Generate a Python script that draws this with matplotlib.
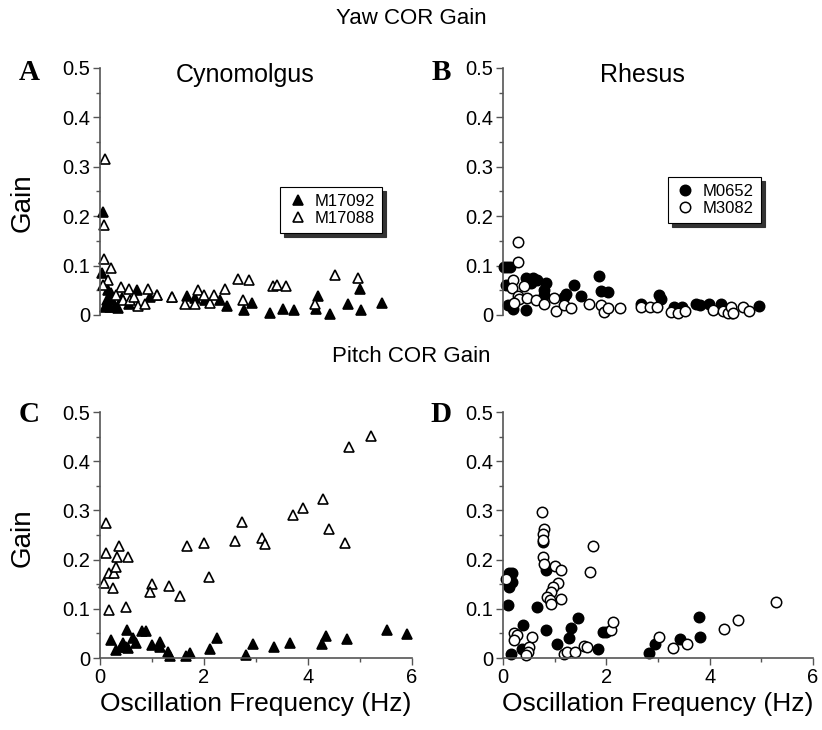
import matplotlib.pyplot as plt
import numpy as np

# ---- Yaw, Cynomolgus (panel A) ----
m17092_yaw_f = [0.06, 0.04, 0.10, 0.19, 0.29, 0.34, 0.15, 0.22, 0.13, 0.23, 0.42, 0.55, 0.71,
                0.96, 1.10, 1.38, 1.67, 1.83, 2.02, 2.30, 2.44, 2.77, 2.92, 3.27, 3.51, 3.73,
                4.15, 4.20, 4.42, 4.77, 4.99, 5.01, 5.42]
m17092_yaw_g = [0.209, 0.085, 0.016, 0.016, 0.016, 0.014, 0.050, 0.044, 0.030, 0.030, 0.034,
                0.022, 0.050, 0.036, 0.040, 0.036, 0.038, 0.034, 0.030, 0.030, 0.018, 0.010,
                0.025, 0.005, 0.012, 0.010, 0.012, 0.038, 0.003, 0.022, 0.052, 0.010, 0.024]
m17088_yaw_f = [0.10, 0.07, 0.08, 0.21, 0.15, 0.06, 0.40, 0.30, 0.44, 0.55, 0.57, 0.65, 0.73,
                0.86, 0.92, 1.10, 1.38, 1.63, 1.83, 1.88, 2.00, 2.12, 2.20, 2.40, 2.66, 2.74,
                2.87, 3.33, 3.40, 3.58, 4.13, 4.52, 4.96]
m17088_yaw_g = [0.315, 0.182, 0.113, 0.096, 0.070, 0.060, 0.056, 0.040, 0.030, 0.052, 0.030,
                0.036, 0.018, 0.022, 0.052, 0.040, 0.037, 0.022, 0.022, 0.050, 0.040, 0.025,
                0.040, 0.052, 0.072, 0.030, 0.070, 0.058, 0.060, 0.058, 0.022, 0.080, 0.075]

# ---- Yaw, Rhesus (panel B) ----
m0652_yaw_f = [0.02, 0.08, 0.13, 0.06, 0.10, 0.20, 0.45, 0.45, 0.58, 0.65, 0.55, 0.83, 0.80,
               0.80, 1.18, 1.21, 1.37, 1.51, 1.86, 1.89, 2.03, 2.67, 3.02, 3.06, 3.31, 3.47,
               3.73, 3.82, 3.98, 4.22, 4.44, 4.95]
m0652_yaw_g = [0.097, 0.097, 0.097, 0.061, 0.020, 0.013, 0.010, 0.074, 0.074, 0.070, 0.065,
               0.065, 0.050, 0.040, 0.037, 0.043, 0.061, 0.039, 0.078, 0.049, 0.046, 0.023,
               0.040, 0.032, 0.016, 0.016, 0.023, 0.020, 0.023, 0.023, 0.004, 0.018]
m3082_yaw_f = [0.29, 0.28, 0.20, 0.17, 0.29, 0.31, 0.21, 0.41, 0.47, 0.63, 0.80, 0.98, 1.03,
               1.18, 1.32, 1.66, 1.89, 1.96, 2.03, 2.27, 2.67, 2.85, 2.99, 3.25, 3.38, 3.52,
               4.06, 4.25, 4.35, 4.41, 4.64, 4.77, 4.45]
m3082_yaw_g = [0.148, 0.108, 0.071, 0.055, 0.038, 0.032, 0.025, 0.058, 0.034, 0.030, 0.022,
               0.034, 0.009, 0.020, 0.014, 0.022, 0.020, 0.006, 0.015, 0.014, 0.016, 0.016,
               0.016, 0.006, 0.004, 0.009, 0.011, 0.008, 0.004, 0.017, 0.016, 0.008, 0.004]

# ---- Pitch, Cynomolgus (panel C) ----
m17092_pitch_f = [0.22, 0.31, 0.40, 0.50, 0.51, 0.44, 0.53, 0.64, 0.70, 0.80, 0.88, 0.99, 1.15,
                  1.15, 1.31, 1.35, 1.66, 1.73, 2.12, 2.24, 2.81, 2.95, 3.35, 3.65, 4.26, 4.35,
                  4.74, 5.51, 5.90]
m17092_pitch_g = [0.036, 0.016, 0.023, 0.023, 0.056, 0.030, 0.020, 0.040, 0.030, 0.055, 0.055,
                  0.027, 0.033, 0.023, 0.012, 0.005, 0.005, 0.011, 0.018, 0.040, 0.006, 0.028,
                  0.022, 0.031, 0.028, 0.045, 0.038, 0.057, 0.048]
m17088_pitch_f = [0.11, 0.11, 0.07, 0.17, 0.27, 0.24, 0.18, 0.31, 0.33, 0.37, 0.53, 0.50, 0.99,
                  0.97, 1.33, 1.54, 1.67, 2.00, 2.10, 2.60, 2.73, 3.12, 3.17, 3.72, 3.90, 4.28,
                  4.41, 4.71, 4.78, 5.21]
m17088_pitch_g = [0.275, 0.213, 0.152, 0.172, 0.172, 0.142, 0.098, 0.186, 0.205, 0.228, 0.205,
                  0.103, 0.150, 0.134, 0.146, 0.126, 0.228, 0.234, 0.164, 0.238, 0.276, 0.244,
                  0.231, 0.290, 0.305, 0.324, 0.263, 0.234, 0.428, 0.452]

# ---- Pitch, Rhesus (panel D) ----
m0652_pitch_f = [0.12, 0.18, 0.09, 0.18, 0.12, 0.09, 0.15, 0.39, 0.36, 0.66, 0.83, 0.83, 0.77,
                 1.04, 1.27, 1.32, 1.45, 1.84, 1.93, 1.99, 2.82, 2.94, 3.42, 3.79, 3.82]
m0652_pitch_g = [0.172, 0.172, 0.155, 0.155, 0.145, 0.107, 0.009, 0.067, 0.019, 0.104, 0.178,
                 0.056, 0.235, 0.028, 0.041, 0.061, 0.082, 0.018, 0.053, 0.053, 0.010, 0.029,
                 0.039, 0.083, 0.043]
m3082_pitch_f = [0.75, 0.79, 0.77, 0.78, 0.78, 0.80, 1.00, 1.12, 1.74, 1.68, 1.06, 0.96, 0.93,
                 0.86, 0.90, 0.93, 1.12, 0.21, 0.27, 0.22, 0.56, 0.51, 0.48, 0.45, 1.18, 1.24,
                 1.39, 1.57, 1.63, 2.09, 2.13, 3.02, 3.29, 3.56, 4.28, 4.55, 5.28, 0.05]
m3082_pitch_g = [0.296, 0.263, 0.253, 0.240, 0.205, 0.192, 0.188, 0.178, 0.228, 0.174, 0.152,
                 0.144, 0.134, 0.125, 0.117, 0.110, 0.120, 0.050, 0.047, 0.036, 0.043, 0.022,
                 0.012, 0.006, 0.009, 0.013, 0.013, 0.025, 0.022, 0.056, 0.073, 0.043, 0.021,
                 0.028, 0.060, 0.077, 0.113, 0.160]

plt.rcParams['font.family'] = ['Liberation Sans', 'DejaVu Sans']

fig = plt.figure(figsize=(8.22, 7.3), dpi=100)

ax_a = fig.add_axes([0.1217, 0.5685, 0.3796, 0.3384])
ax_b = fig.add_axes([0.612, 0.5685, 0.377, 0.3384])
ax_c = fig.add_axes([0.1217, 0.0986, 0.3796, 0.337])
ax_d = fig.add_axes([0.612, 0.0986, 0.377, 0.337])

tri = dict(marker='^', ms=7.5, mew=1.2, mec='black', ls='none', clip_on=False)
circ = dict(marker='o', ms=7.5, mew=1.1, mec='black', ls='none', clip_on=False)

ax_a.plot(m17092_yaw_f, m17092_yaw_g, mfc='black', label='M17092', **tri)
ax_a.plot(m17088_yaw_f, m17088_yaw_g, mfc='white', label='M17088', **tri)
ax_b.plot(m0652_yaw_f, m0652_yaw_g, mfc='black', label='M0652', **circ)
ax_b.plot(m3082_yaw_f, m3082_yaw_g, mfc='white', label='M3082', **circ)
ax_c.plot(m17092_pitch_f, m17092_pitch_g, mfc='black', **tri)
ax_c.plot(m17088_pitch_f, m17088_pitch_g, mfc='white', **tri)
ax_d.plot(m0652_pitch_f, m0652_pitch_g, mfc='black', **circ)
ax_d.plot(m3082_pitch_f, m3082_pitch_g, mfc='white', **circ)

for ax in (ax_a, ax_b, ax_c, ax_d):
    ax.set_xlim(0, 6)
    ax.set_ylim(0, 0.5)
    ax.set_yticks([0, 0.1, 0.2, 0.3, 0.4, 0.5])
    ax.set_yticklabels(['0', '0.1', '0.2', '0.3', '0.4', '0.5'])
    ax.set_yticks(np.arange(0.05, 0.5, 0.1), minor=True)
    ax.spines['top'].set_visible(False)
    ax.spines['right'].set_visible(False)
    for s in ('left', 'bottom'):
        ax.spines[s].set_color('#555555')
        ax.spines[s].set_linewidth(1.2)
    ax.tick_params(axis='both', which='major', direction='out', length=5,
                   width=1, color='#555555', labelsize=14.5, pad=2)
    ax.tick_params(axis='both', which='minor', direction='out', length=3,
                   width=1, color='#555555')

for ax in (ax_a, ax_b):
    ax.spines['bottom'].set_visible(False)
    ax.set_xticks([])

for ax in (ax_c, ax_d):
    ax.set_xticks([0, 2, 4, 6])
    ax.set_xticklabels(['0', '2', '4', '6'])
    ax.set_xticks([1, 3, 5], minor=True)
    ax.set_xlabel('Oscillation Frequency (Hz)', fontsize=19, labelpad=4)

shadow = {'ox': 3, 'oy': -3, 'facecolor': '0.2', 'edgecolor': '0.2', 'alpha': 1}
for ax, anchor in ((ax_a, (0.577, 0.518)), (ax_b, (0.532, 0.559))):
    leg = ax.legend(loc='upper left', bbox_to_anchor=anchor, fontsize=12,
                    frameon=True, fancybox=False, shadow=shadow, framealpha=1,
                    handletextpad=0.4, borderpad=0.4, labelspacing=0.15,
                    handlelength=1.3, borderaxespad=0)
    leg.get_frame().set_edgecolor('black')
    leg.get_frame().set_linewidth(0.8)

# titles, panel letters and labels
fig.text(0.5, 0.975, 'Yaw COR Gain', ha='center', va='center', fontsize=16)
fig.text(0.5, 0.511, 'Pitch COR Gain', ha='center', va='center', fontsize=16)
fig.text(0.298, 0.897, 'Cynomolgus', ha='center', va='center', fontsize=18)
fig.text(0.782, 0.897, 'Rhesus', ha='center', va='center', fontsize=18)

letter = dict(ha='center', va='center', fontsize=21, fontweight='bold',
              family=['Liberation Serif', 'DejaVu Serif'])
fig.text(0.036, 0.9, 'A', **letter)
fig.text(0.537, 0.9, 'B', **letter)
fig.text(0.036, 0.432, 'C', **letter)
fig.text(0.537, 0.432, 'D', **letter)

fig.text(0.027, 0.723, 'Gain', rotation=90, ha='center', va='center', fontsize=20)
fig.text(0.027, 0.264, 'Gain', rotation=90, ha='center', va='center', fontsize=20)

fig.savefig('out.png', dpi=100, facecolor='white')
